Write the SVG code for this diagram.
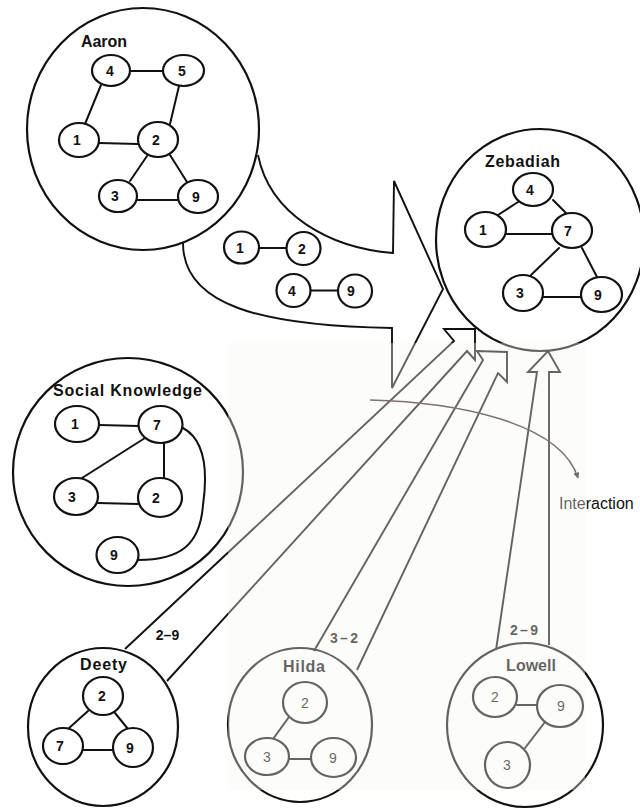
<svg xmlns="http://www.w3.org/2000/svg" width="640" height="810" viewBox="0 0 640 810">
  <style>
    .ring { fill: none; stroke: #111; stroke-width: 2.2; }
    .nd { fill: #fff; stroke: #111; stroke-width: 2.2; }
    .ln { fill: none; stroke: #111; stroke-width: 2; stroke-linecap: round; }
    .cn { fill: none; stroke: #111; stroke-width: 1.9; stroke-linejoin: miter; }
    .num { font-family: "Liberation Sans", Arial, sans-serif; font-weight: bold; font-size: 14px; text-anchor: middle; fill: #111; }
    .ttl { font-family: "Liberation Sans", Arial, sans-serif; font-weight: bold; font-size: 16px; text-anchor: middle; fill: #111; }
    .lbl { font-family: "Liberation Sans", Arial, sans-serif; font-weight: bold; font-size: 14px; text-anchor: middle; fill: #111; }
    .thin { font-weight: normal; }
  </style>
  <defs>
    <marker id="tip" viewBox="0 0 10 10" refX="9" refY="5" markerWidth="6" markerHeight="6" orient="auto" markerUnits="userSpaceOnUse">
      <path d="M0,0 L10,5 L0,10 Z" fill="#2a1e1e"/>
    </marker>
  </defs>
  <rect width="640" height="810" fill="#fff"/>

  <!-- connectors: transfer arrow, contribution arrows, interaction -->
  <g id="connectors">
    <path class="cn" d="M258,155 C270,215 330,248 393,253 L394,181 L443,289 L392,388 L392,328 C260,326 183,305 183,243"/>
    <path class="cn" d="M125,649 L454,341 L444,329 L475,329 L475,360 L467,351 L167,681"/>
    <path class="cn" d="M314,651 L483,360 L477,351 L507,352 L507,382 L498,373 L357,670"/>
    <path class="cn" d="M496,650 L537,372 L528,372 L548,351 L560,372 L549,372 L549,645"/>
    <path d="M370,400 C450,402 560,420 578,478" fill="none" stroke="#3a2828" stroke-width="1.6" marker-end="url(#tip)"/>
    <text class="lbl" x="167.5" y="640">2–9</text>
    <text class="lbl" x="344" y="643" textLength="28">3–2</text>
    <text class="lbl" x="524" y="635" textLength="28">2–9</text>
    <text x="559" y="509" font-family="Liberation Sans, Arial, sans-serif" font-size="16" fill="#111">Interaction</text>
  </g>

  <!-- Aaron -->
  <g id="aaron">
    <ellipse class="ring" cx="143" cy="129" rx="116" ry="121"/>
    <text class="ttl" x="104" y="47">Aaron</text>
    <g class="ln">
      <line x1="130" y1="71" x2="163" y2="71"/>
      <line x1="101" y1="85" x2="85" y2="124"/>
      <line x1="179" y1="86" x2="170" y2="124"/>
      <line x1="99" y1="143" x2="138" y2="144"/>
      <line x1="147" y1="156" x2="130" y2="181"/>
      <line x1="170" y1="155" x2="187" y2="182"/>
      <line x1="137" y1="200" x2="178" y2="200"/>
    </g>
    <g id="aaron-4"><ellipse class="nd" cx="111" cy="70.5" rx="19" ry="15.5"/><text class="num" x="110" y="75.5">4</text></g>
    <g id="aaron-5"><ellipse class="nd" cx="183.5" cy="70.5" rx="20.5" ry="15.5"/><text class="num" x="182" y="75.5">5</text></g>
    <g id="aaron-1"><ellipse class="nd" cx="79" cy="140" rx="20" ry="17"/><text class="num" x="77" y="145">1</text></g>
    <g id="aaron-2"><ellipse class="nd" cx="158" cy="139.5" rx="20" ry="17.5"/><text class="num" x="156" y="144.5">2</text></g>
    <g id="aaron-3"><ellipse class="nd" cx="118" cy="196" rx="19" ry="16"/><text class="num" x="115" y="201">3</text></g>
    <g id="aaron-9"><ellipse class="nd" cx="198" cy="196.5" rx="20" ry="16.5"/><text class="num" x="196" y="201.5">9</text></g>
  </g>

  <!-- links handed over to Zebadiah -->
  <g id="transfer">
    <line class="ln" x1="259" y1="248" x2="286" y2="248"/>
    <line class="ln" x1="310" y1="290.5" x2="338" y2="290.5"/>
    <g id="transfer-1"><ellipse class="nd" cx="241.5" cy="247.5" rx="17.5" ry="16"/><text class="num" x="240" y="252.5">1</text></g>
    <g id="transfer-2"><ellipse class="nd" cx="303.5" cy="248.5" rx="17" ry="16.5"/><text class="num" x="302" y="253.5">2</text></g>
    <g id="transfer-4"><ellipse class="nd" cx="293.5" cy="290.5" rx="17" ry="16.5"/><text class="num" x="292" y="295.5">4</text></g>
    <g id="transfer-9"><ellipse class="nd" cx="355" cy="291" rx="17" ry="16.5"/><text class="num" x="351" y="296">9</text></g>
  </g>

  <!-- Zebadiah -->
  <g id="zebadiah">
    <ellipse class="ring" cx="540" cy="240" rx="104" ry="111"/>
    <text class="ttl" x="522.5" y="167" textLength="75">Zebadiah</text>
    <g class="ln">
      <line x1="518" y1="202" x2="498" y2="215"/>
      <line x1="553" y1="200" x2="567" y2="214"/>
      <line x1="506" y1="234" x2="552" y2="234"/>
      <line x1="559" y1="248" x2="530" y2="276"/>
      <line x1="582" y1="248" x2="597" y2="277"/>
      <line x1="543" y1="297" x2="581" y2="297"/>
    </g>
    <g id="zeb-4"><ellipse class="nd" cx="533" cy="189.5" rx="20" ry="16.5"/><text class="num" x="530" y="194.5">4</text></g>
    <g id="zeb-1"><ellipse class="nd" cx="485.5" cy="229.5" rx="20.5" ry="17.5"/><text class="num" x="483" y="234.5">1</text></g>
    <g id="zeb-7"><ellipse class="nd" cx="572" cy="230.5" rx="20" ry="17.5"/><text class="num" x="568" y="235.5">7</text></g>
    <g id="zeb-3"><ellipse class="nd" cx="523" cy="293" rx="20" ry="18"/><text class="num" x="520" y="298">3</text></g>
    <g id="zeb-9"><ellipse class="nd" cx="601.5" cy="294.5" rx="20.5" ry="17.5"/><text class="num" x="598" y="299.5">9</text></g>
  </g>

  <!-- Social Knowledge -->
  <g id="social-knowledge">
    <ellipse class="ring" cx="128" cy="472" rx="115" ry="114"/>
    <text class="ttl" x="127.5" y="396" font-size="15" textLength="149">Social Knowledge</text>
    <g class="ln">
      <line x1="99" y1="425" x2="138" y2="426"/>
      <line x1="145" y1="438" x2="82" y2="478"/>
      <line x1="164" y1="443" x2="164" y2="478"/>
      <line x1="98" y1="503" x2="138" y2="504"/>
      <path d="M183,428 C205,440 208,470 203,505 C200,545 180,560 138,560"/>
    </g>
    <g id="sk-1"><ellipse class="nd" cx="77" cy="424" rx="22" ry="18"/><text class="num" x="75" y="429">1</text></g>
    <g id="sk-7"><ellipse class="nd" cx="160.5" cy="424.5" rx="22" ry="18.5"/><text class="num" x="157" y="429.5">7</text></g>
    <g id="sk-3"><ellipse class="nd" cx="76" cy="496.5" rx="22" ry="18.5"/><text class="num" x="72" y="501.5">3</text></g>
    <g id="sk-2"><ellipse class="nd" cx="160" cy="497.5" rx="22" ry="19.5"/><text class="num" x="156" y="502.5">2</text></g>
    <g id="sk-9"><ellipse class="nd" cx="117.5" cy="555" rx="21" ry="18"/><text class="num" x="114" y="560">9</text></g>
  </g>

  <!-- Deety -->
  <g id="deety">
    <ellipse class="ring" cx="103" cy="727" rx="75" ry="79"/>
    <text class="ttl" x="103.5" y="670" textLength="47">Deety</text>
    <g class="ln">
      <line x1="88" y1="711" x2="68" y2="729"/>
      <line x1="115" y1="713" x2="128" y2="729"/>
      <line x1="83" y1="750" x2="113" y2="750"/>
    </g>
    <g id="deety-2"><ellipse class="nd" cx="103" cy="696" rx="20" ry="19"/><text class="num" x="102" y="701">2</text></g>
    <g id="deety-7"><ellipse class="nd" cx="63" cy="746" rx="20" ry="18"/><text class="num" x="60" y="751">7</text></g>
    <g id="deety-9"><ellipse class="nd" cx="133" cy="747.5" rx="20" ry="19.5"/><text class="num" x="130" y="752.5">9</text></g>
  </g>

  <!-- Hilda -->
  <g id="hilda">
    <ellipse class="ring" cx="300" cy="725" rx="72" ry="77"/>
    <text class="ttl" x="304" y="672" textLength="42">Hilda</text>
    <g class="ln">
      <line x1="289" y1="717" x2="273" y2="739"/>
      <line x1="289" y1="759" x2="311" y2="759"/>
    </g>
    <g id="hilda-2"><ellipse class="nd" cx="305" cy="702.5" rx="22" ry="20.5"/><text class="num thin" x="305" y="707.5">2</text></g>
    <g id="hilda-3"><ellipse class="nd" cx="267" cy="756.5" rx="22" ry="18.5"/><text class="num thin" x="267" y="761.5">3</text></g>
    <g id="hilda-9"><ellipse class="nd" cx="333.5" cy="757.5" rx="22.5" ry="19.5"/><text class="num thin" x="333" y="762.5">9</text></g>
  </g>

  <!-- Lowell -->
  <g id="lowell">
    <ellipse class="ring" cx="525" cy="725" rx="78" ry="82"/>
    <text class="ttl" x="531" y="671">Lowell</text>
    <g class="ln">
      <line x1="517" y1="705" x2="537" y2="705"/>
      <line x1="545" y1="722" x2="525" y2="748"/>
    </g>
    <g id="lowell-2"><ellipse class="nd" cx="495" cy="697" rx="22" ry="20"/><text class="num thin" x="495" y="702">2</text></g>
    <g id="lowell-9"><ellipse class="nd" cx="560" cy="706" rx="23" ry="21"/><text class="num thin" x="561" y="711">9</text></g>
    <g id="lowell-3"><ellipse class="nd" cx="507.5" cy="765" rx="22.5" ry="23"/><text class="num thin" x="507" y="770">3</text></g>
  </g>

  <!-- faded lower-middle panel -->
  <rect x="228" y="343" width="357" height="447" fill="#f6f6f5" opacity="0.36"/>
</svg>
